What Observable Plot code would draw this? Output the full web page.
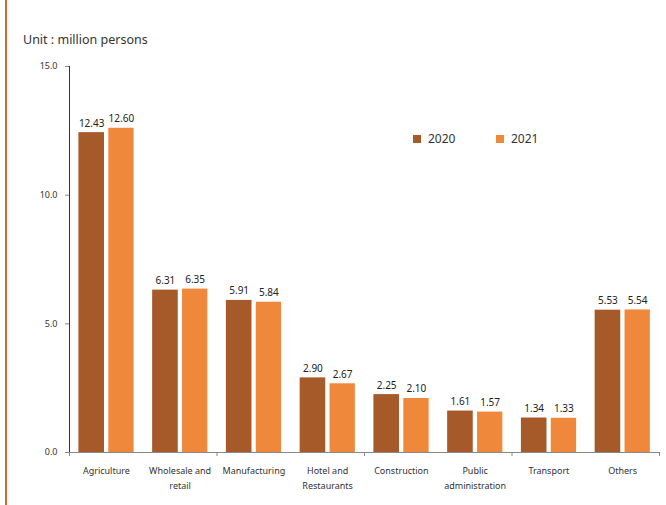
<!DOCTYPE html>
<html>
<head>
<meta charset="utf-8">
<script src="https://cdn.jsdelivr.net/npm/d3@7"></script>
<script src="https://cdn.jsdelivr.net/npm/@observablehq/plot@0.6"></script>
<style>
  html, body { margin: 0; padding: 0; background: #fff; }
  #wrap { position: relative; width: 666px; height: 505px; overflow: hidden; font-family: "Noto Sans", sans-serif; }
  #edge { position: absolute; left: 5px; top: 0; width: 2px; height: 505px; background: #D4692A; }
  #unit { position: absolute; left: 23px; top: 31px; font-size: 12.5px; color: #333; }
  #legend { position: absolute; left: 413px; top: 130px; font-size: 12px; color: #333; display: flex; gap: 0; }
  .item { display: flex; align-items: center; width: 83px; }
  .sw { width: 8px; height: 8px; margin-right: 7px; }
  #chart svg { position: absolute; left: 0; top: 0; }
  #chart svg [aria-label^="y-axis"] line, #chart svg [aria-label^="y-axis"] path { stroke: #888; }
  #chart svg [aria-label^="y-axis"] text { fill: #333; }
</style>
</head>
<body>
<div id="wrap">
  <div id="chart"></div>
  <div id="edge"></div>
  <div id="unit">Unit : million persons</div>
  <div id="legend"></div>
</div>
<script>
const categories = ["Agriculture", "Wholesale and retail", "Manufacturing", "Hotel and Restaurants", "Construction", "Public administration", "Transport", "Others"];
const categoryLabels = ["Agriculture", "Wholesale and\nretail", "Manufacturing", "Hotel and\nRestaurants", "Construction", "Public\nadministration", "Transport", "Others"];
const years = ["2020", "2021"];
const values2020 = [12.43, 6.31, 5.91, 2.90, 2.25, 1.61, 1.34, 5.53];
const values2021 = [12.60, 6.35, 5.84, 2.67, 2.10, 1.57, 1.33, 5.54];
const yTicks = [0, 5, 10, 15];
const colors = ["#A65A2A", "#F0883B"];

const d2020 = categories.map((c, i) => ({cat: c, year: "2020", value: values2020[i]}));
const d2021 = categories.map((c, i) => ({cat: c, year: "2021", value: values2021[i]}));
const labelData = categories.map((c, i) => ({cat: c, label: categoryLabels[i]}));
const tickCats = categories.filter((c, i) => i % 2 === 0);

const bw = (659 - 69) / categories.length;

const chart = Plot.plot({
  width: 666,
  height: 505,
  marginLeft: 69,
  marginRight: 7,
  marginTop: 66,
  marginBottom: 53,
  style: {fontFamily: "'Noto Sans', sans-serif", fontSize: "9px", color: "#333", background: "transparent"},
  x: {domain: categories, padding: 0, round: false, axis: null},
  y: {domain: [0, 15], ticks: yTicks, tickFormat: d3.format(".1f"), tickSize: 4, tickPadding: 8, line: true, label: null},
  color: {domain: years, range: colors},
  marks: [
    Plot.barY(d2020, {x: "cat", y: "value", fill: "year", insetLeft: 9.4, insetRight: bw - 35}),
    Plot.barY(d2021, {x: "cat", y: "value", fill: "year", insetLeft: 39.3, insetRight: bw - 64.6}),
    Plot.text(d2020, {x: "cat", y: "value", text: d => d.value.toFixed(2), dx: -14.7, dy: -6, lineAnchor: "bottom", fontSize: 10, fill: "#222"}),
    Plot.text(d2021, {x: "cat", y: "value", text: d => d.value.toFixed(2), dx: 15, dy: -6, lineAnchor: "bottom", fontSize: 10, fill: "#222"}),
    Plot.ruleY([0], {stroke: "#888"}),
    Plot.ruleX(tickCats, {x: d => d, y1: 0, y2: 0, insetBottom: -4, dx: -bw / 2, stroke: "#888"}),
    Plot.ruleX([categories[categories.length - 1]], {x: d => d, y1: 0, y2: 0, insetBottom: -4, dx: bw / 2, stroke: "#888"}),
    Plot.text(labelData, {x: "cat", y: 0, text: "label", lineAnchor: "top", dy: 11, lineHeight: 1.67, fontSize: 9, fill: "#333"})
  ]
});
document.getElementById("chart").appendChild(chart);

const legend = document.getElementById("legend");
years.forEach((y, i) => {
  const item = document.createElement("div");
  item.className = "item";
  item.innerHTML = `<span class="sw" style="background:${colors[i]}"></span><span>${y}</span>`;
  legend.appendChild(item);
});
</script>
</body>
</html>
